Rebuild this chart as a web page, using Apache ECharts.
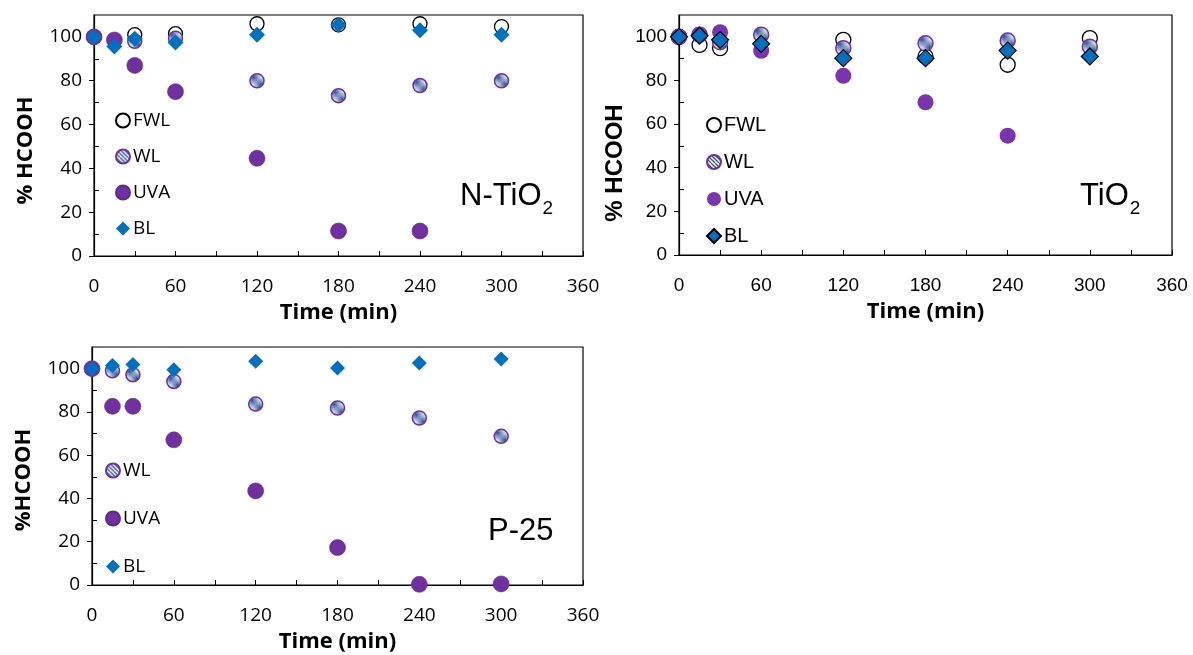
<!DOCTYPE html>
<html>
<head>
<meta charset="utf-8">
<script src="https://cdn.jsdelivr.net/npm/echarts@6/dist/echarts.min.js"></script>
<style>
html,body{margin:0;padding:0;background:#fff;}
#chart{width:1193px;height:655px;}
</style>
</head>
<body>
<div id="chart"></div>
<script>
// ---- data ----
var times = [0, 15, 30, 60, 120, 180, 240, 300];
var xTicks = [0, 60, 120, 180, 240, 300, 360];
var yTicks = [0, 20, 40, 60, 80, 100];
var yMinorTicks = [10, 30, 50, 70, 90];
var panelNames = ['N-TiO2', 'TiO2', 'P-25'];

var nFWL = [100, null, 101, 101.5, 106, 105.5, 106, 104.7];
var nWL  = [100, null, 98, 99.4, 80, 73.2, 77.8, 80];
var nUVA = [100, 98.6, 87, 75, 44.6, 11.4, 11.4, null];
var nBL  = [100, 95.6, 99.2, 97.5, 101, 105.5, 103, 101];

var tFWL = [100, 96.3, 94.8, null, 98.6, 91, 87.2, 99.4];
var tWL  = [100, 101, 97.5, 101, 94.8, 97, 98.3, 95.5];
var tUVA = [100, 101, 102.1, 93.6, 82.1, 70, 54.7, null];
var tBL  = [100, 100.5, 98.6, 96.8, 90.2, 90.2, 93.7, 91];

var pWL  = [100, 99, 97.2, 94.1, 83.6, 81.8, 77.2, 68.7];
var pUVA = [100, 82.6, 82.6, 67.1, 43.5, 17.3, 0.3, 0.5];
var pBL  = [100, 101.5, 101.9, 99.5, 103.4, 100.3, 102.6, 104.5];

function pairs(vals) {
  var out = [];
  for (var i = 0; i < times.length; i++) {
    if (vals[i] !== null) out.push([times[i], vals[i]]);
  }
  return out;
}

// striped pattern for WL markers
var pc = document.createElement('canvas');
pc.width = 8; pc.height = 8;
var ctx = pc.getContext('2d');
ctx.fillStyle = '#ffffff';
ctx.fillRect(0, 0, 8, 8);
ctx.strokeStyle = '#2F5597';
ctx.lineWidth = 1.3;
for (var k = -8; k <= 8; k += 4) {
  ctx.beginPath();
  ctx.moveTo(k, 0);
  ctx.lineTo(k + 8, 8);
  ctx.stroke();
}
var stripe = { image: pc, repeat: 'repeat' };

var PURPLE = '#7030A0';
var BLUE = '#0070C0';

var fontA = 'Open Sans';
var fontB = 'Liberation Sans';

var grids = [
  { left: 94, top: 15, width: 489, height: 241, show: true, borderColor: '#000', borderWidth: 1.2 },
  { left: 679, top: 15, width: 493, height: 240, show: true, borderColor: '#000', borderWidth: 1.2 },
  { left: 92, top: 347, width: 491, height: 238, show: true, borderColor: '#000', borderWidth: 1.2 }
];

function xAxisFor(i, font, size) {
  return {
    gridIndex: i, type: 'value', min: 0, max: 360, interval: 60,
    axisLine: { show: true, lineStyle: { color: '#000', width: 1.2 } },
    axisTick: { show: true, inside: true, length: 5, lineStyle: { color: '#000' } },
    minorTick: { show: true, splitNumber: 2, length: 5, lineStyle: { color: '#000' } },
    splitLine: { show: false },
    axisLabel: { customValues: xTicks, margin: 21, color: '#000', fontFamily: font, fontSize: size },
    name: 'Time (min)', nameLocation: 'middle', nameGap: 46,
    nameTextStyle: { fontFamily: fontA, fontWeight: 'bold', fontSize: 22, color: '#000' }
  };
}
function yAxisFor(i, font, size, name, nameFont, nameSize, gap, pad) {
  return {
    gridIndex: i, type: 'value', min: 0, max: 110, interval: 20,
    axisLine: { show: true, lineStyle: { color: '#000', width: 1.2 } },
    axisTick: { show: true, inside: false, length: 5, customValues: yTicks, lineStyle: { color: '#000' } },
    splitLine: { show: false },
    axisLabel: { customValues: yTicks, margin: 12, color: '#000', fontFamily: font, fontSize: size },
    name: name, nameLocation: 'middle', nameGap: gap,
    nameTextStyle: { fontFamily: nameFont, fontWeight: 'bold', fontSize: nameSize, color: '#000', padding: pad }
  };
}
function yMinorFor(i) {
  return {
    gridIndex: i, type: 'value', min: 0, max: 110, interval: 20, position: 'left', offset: 0,
    axisLine: { show: false },
    axisTick: { show: true, inside: true, length: 5, customValues: yMinorTicks, lineStyle: { color: '#000' } },
    axisLabel: { show: false },
    splitLine: { show: false }
  };
}

function ser(panel, label, xi, yi, vals, symbol, size, style) {
  style.opacity = 1;
  return {
    name: panel + '|' + label, type: 'scatter', xAxisIndex: xi, yAxisIndex: yi,
    symbol: symbol, symbolSize: size, data: pairs(vals), itemStyle: style,
    emphasis: { disabled: true }, z: 2
  };
}

function styleFWL() { return { color: 'rgba(255,255,255,0)', borderColor: '#000', borderWidth: 1.3 }; }
function styleWL() { return { color: stripe, borderColor: PURPLE, borderWidth: 1.5 }; }
function styleUVA() { return { color: PURPLE, borderColor: '#5E2A8A', borderWidth: 0.6 }; }

var series = [
  ser('N-TiO2', 'FWL', 0, 0, nFWL, 'circle', 14, styleFWL()),
  ser('N-TiO2', 'WL', 0, 0, nWL, 'circle', 14, styleWL()),
  ser('N-TiO2', 'UVA', 0, 0, nUVA, 'circle', 16, styleUVA()),
  ser('N-TiO2', 'BL', 0, 0, nBL, 'diamond', 16, { color: BLUE }),

  ser('TiO2', 'FWL', 1, 2, tFWL, 'circle', 15, styleFWL()),
  ser('TiO2', 'WL', 1, 2, tWL, 'circle', 15, styleWL()),
  ser('TiO2', 'UVA', 1, 2, tUVA, 'circle', 16, { color: '#7A35AE' }),
  ser('TiO2', 'BL', 1, 2, tBL, 'diamond', 17, { color: BLUE, borderColor: '#000', borderWidth: 1.2 }),

  ser('P-25', 'WL', 2, 4, pWL, 'circle', 14, styleWL()),
  ser('P-25', 'UVA', 2, 4, pUVA, 'circle', 16, styleUVA()),
  ser('P-25', 'BL', 2, 4, pBL, 'diamond', 15, { color: BLUE })
];

function legendFor(panel, labels, left, top, gap, font, size) {
  return {
    data: labels.map(function (l) { return panel + '|' + l; }),
    orient: 'vertical', left: left, top: top, itemGap: gap,
    itemWidth: 14, itemHeight: 14, selectedMode: false,
    formatter: function (n) { return n.split('|')[1]; },
    textStyle: { fontFamily: font, fontSize: size, color: '#000', padding: [0, 0, 0, -2] }
  };
}

var subRich = function (font) {
  return {
    a: { fontFamily: font, fontSize: 31, fontWeight: 'normal', color: '#000', lineHeight: 36 },
    b: { fontFamily: font, fontSize: 19, fontWeight: 'normal', color: '#000', lineHeight: 36, verticalAlign: 'bottom', padding: [0, 0, -4, 1] }
  };
};

var option = {
  animation: false,
  backgroundColor: '#fff',
  grid: grids,
  xAxis: [xAxisFor(0, fontA, 19), xAxisFor(1, fontB, 19), xAxisFor(2, fontA, 19)],
  yAxis: [
    yAxisFor(0, fontA, 19, '% HCOOH', fontA, 22, 57, [0, 30, 0, 0]),
    yMinorFor(0),
    yAxisFor(1, fontB, 19, '% HCOOH', fontB, 24, 52, [0, 56, 0, 0]),
    yMinorFor(1),
    yAxisFor(2, fontA, 19, '%HCOOH', fontA, 22, 57, [0, 28, 0, 0]),
    yMinorFor(2)
  ],
  legend: [
    legendFor('N-TiO2', ['FWL', 'WL', 'UVA', 'BL'], 110, 106, 17, fontA, 19),
    legendFor('TiO2', ['FWL', 'WL', 'UVA', 'BL'], 701, 110, 17, fontB, 20),
    legendFor('P-25', ['WL', 'UVA', 'BL'], 100, 456, 29, fontA, 19)
  ],
  title: [
    { text: '{a|N-TiO}{b|2}', left: 455, top: 173, textStyle: { fontWeight: 'normal', rich: subRich(fontB) } },
    { text: '{a|TiO}{b|2}', left: 1075, top: 173, textStyle: { fontWeight: 'normal', rich: subRich(fontB) } },
    { text: '{a|P-25}', left: 483, top: 508, textStyle: { fontWeight: 'normal', rich: subRich(fontB) } }
  ],
  series: series
};

var chart = echarts.init(document.getElementById('chart'), null, { renderer: 'canvas' });
chart.setOption(option);
</script>
</body>
</html>
